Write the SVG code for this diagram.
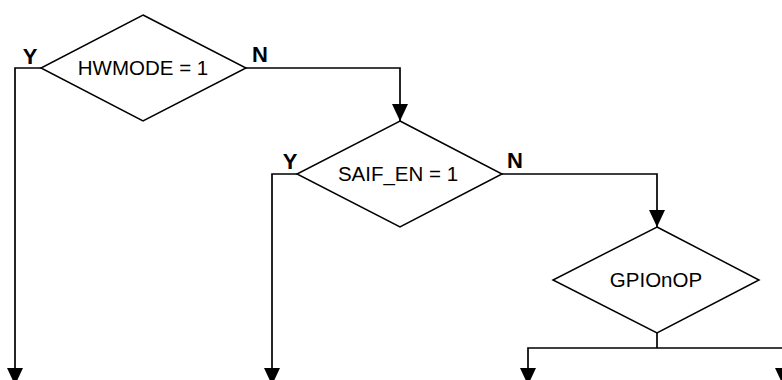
<svg xmlns="http://www.w3.org/2000/svg" width="782" height="380" viewBox="0 0 782 380">
<style>
.shape{fill:#fff;stroke:#000;stroke-width:1.5;stroke-linejoin:miter}
.conn{fill:none;stroke:#000;stroke-width:1.7}
.lbl{font-family:"Liberation Sans",Arial,sans-serif;font-size:20.5px;fill:#000;text-anchor:middle}
.yn{font-family:"Liberation Sans",Arial,sans-serif;font-size:22px;font-weight:bold;fill:#000;text-anchor:middle}
</style>
<defs>
<marker id="arr" markerUnits="userSpaceOnUse" markerWidth="17" markerHeight="16" refX="17" refY="8" orient="auto">
<path d="M0,0 L17,8 L0,16 Z" fill="#000"/>
</marker>
</defs>
<rect width="782" height="380" fill="#fff"/>
<g id="connectors">
<polyline class="conn" points="41,68 15,68 15,385" marker-end="url(#arr)"/>
<polyline class="conn" points="246,68 400,68 400,121" marker-end="url(#arr)"/>
<polyline class="conn" points="297,174 272,174 272,385" marker-end="url(#arr)"/>
<polyline class="conn" points="502,174 657,174 657,227" marker-end="url(#arr)"/>
<polyline class="conn" points="657,333 657,348"/>
<polyline class="conn" points="657,348 528,348 528,385" marker-end="url(#arr)"/>
<polyline class="conn" points="657,348 783,348 783,385" marker-end="url(#arr)"/>
<text class="yn" x="30" y="64">Y</text>
<text class="yn" x="260" y="62">N</text>
<text class="yn" x="290" y="169">Y</text>
<text class="yn" x="515" y="168">N</text>
</g>
<g id="hwmode">
<polygon class="shape" points="143,15 246,68 143,121 41,68"/>
<text class="lbl" x="143" y="75">HWMODE = 1</text>
</g>
<g id="saif_en">
<polygon class="shape" points="400,121 502,174 400,227 297,174"/>
<text class="lbl" x="398" y="181">SAIF_EN = 1</text>
</g>
<g id="gpionop">
<polygon class="shape" points="657,227 759,280 657,333 553,280"/>
<text class="lbl" x="656" y="287">GPIOnOP</text>
</g>
</svg>
